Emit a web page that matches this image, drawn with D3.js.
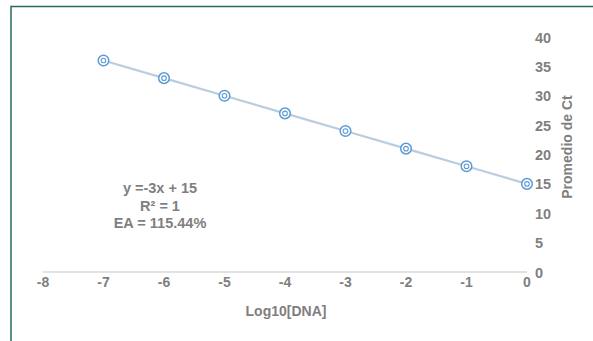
<!DOCTYPE html>
<html>
<head>
<meta charset="utf-8">
<script src="https://cdn.jsdelivr.net/npm/d3@7.9.0/dist/d3.min.js"></script>
<style>
  body { margin: 0; background: #fff; }
  text { font-family: "Liberation Sans", Arial, sans-serif; font-weight: bold; fill: #7f7f7f; }
</style>
</head>
<body>
<svg id="chart" width="593" height="341"></svg>
<script>
// data
const logDNA = [-7, -6, -5, -4, -3, -2, -1, 0];
const ctMean = [36, 33, 30, 27, 24, 21, 18, 15];
const xTicks = [-8, -7, -6, -5, -4, -3, -2, -1, 0];
const yTicks = [0, 5, 10, 15, 20, 25, 30, 35, 40];
const eqLines = ['y =-3x + 15', 'R² = 1', 'EA = 115.44%'];

const svg = d3.select('#chart');

// frame
svg.append('path')
  .attr('d', 'M11,345 L11,6.5 L600,6.5')
  .attr('fill', 'none')
  .attr('stroke', '#236d62')
  .attr('stroke-width', 1.5);

const x = d3.scaleLinear().domain([-8, 0]).range([43, 527]);
const y = d3.scaleLinear().domain([0, 40]).range([272, 37]);

// x axis line
svg.append('line')
  .attr('x1', x(-8)).attr('x2', x(0))
  .attr('y1', y(0)).attr('y2', y(0))
  .attr('stroke', '#d9d9d9').attr('stroke-width', 1.5);

svg.selectAll('.xt').data(xTicks).join('text')
  .attr('class', 'xt')
  .attr('x', d => x(d))
  .attr('y', 287)
  .attr('text-anchor', 'middle')
  .attr('font-size', 14)
  .text(d => d);

svg.selectAll('.yt').data(yTicks).join('text')
  .attr('class', 'yt')
  .attr('x', 535)
  .attr('y', d => y(d) + 5.5)
  .attr('font-size', 14.5)
  .text(d => d);

svg.append('text')
  .attr('x', 286).attr('y', 316)
  .attr('text-anchor', 'middle')
  .attr('font-size', 14)
  .text('Log10[DNA]');

svg.append('text')
  .attr('transform', 'translate(572,147) rotate(-90)')
  .attr('text-anchor', 'middle')
  .attr('font-size', 14)
  .text('Promedio de Ct');

// line + markers
const pts = logDNA.map((d, i) => [d, ctMean[i]]);
svg.append('path')
  .datum(pts)
  .attr('d', d3.line().x(d => x(d[0])).y(d => y(d[1])))
  .attr('fill', 'none')
  .attr('stroke', '#b9cde1')
  .attr('stroke-width', 2.2);

const mk = svg.selectAll('.mk').data(pts).join('g')
  .attr('class', 'mk')
  .attr('transform', d => `translate(${x(d[0])},${y(d[1])})`);
mk.append('circle').attr('r', 5.3).attr('fill', '#fff')
  .attr('stroke', '#5b9bd5').attr('stroke-width', 1.5);
mk.append('circle').attr('r', 2.3).attr('fill', 'none')
  .attr('stroke', '#5b9bd5').attr('stroke-width', 1.1);

// equation
svg.selectAll('.eq').data(eqLines).join('text')
  .attr('class', 'eq')
  .attr('x', 160)
  .attr('y', (d, i) => 193 + i * 17.5)
  .attr('text-anchor', 'middle')
  .attr('font-size', 14.5)
  .text(d => d);
</script>
</body>
</html>
